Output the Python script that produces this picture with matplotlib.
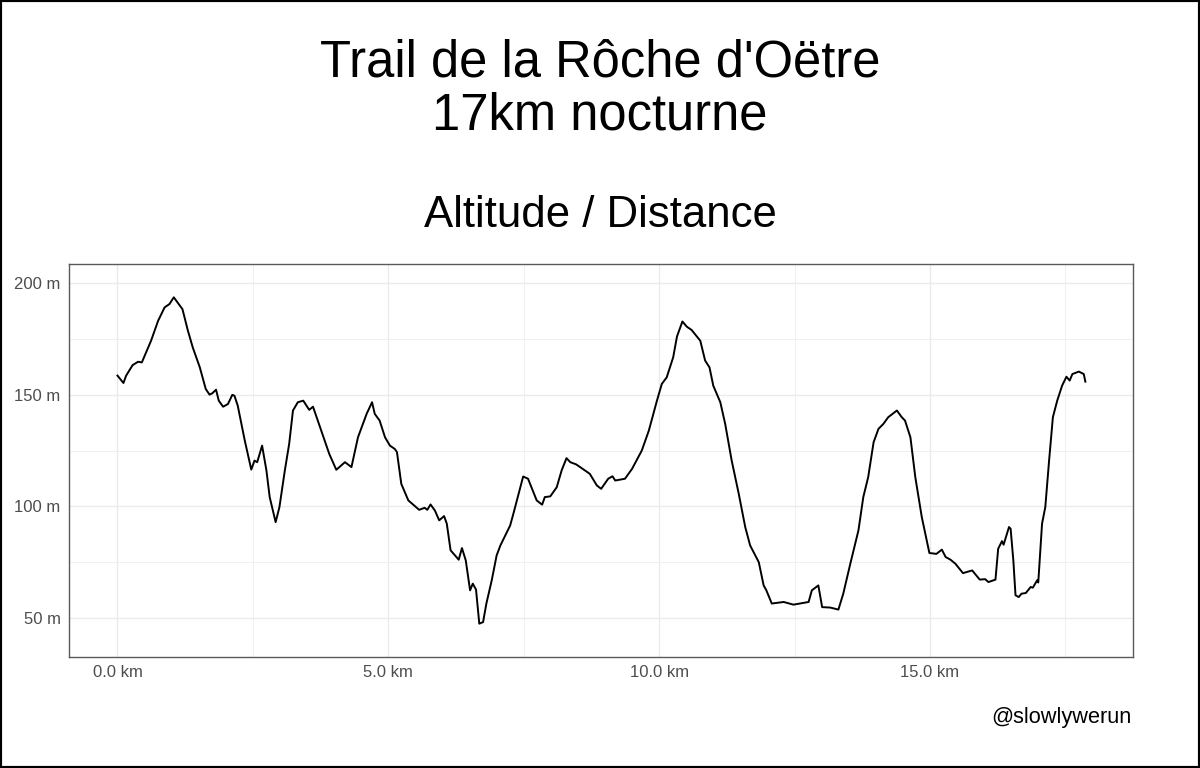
import matplotlib
matplotlib.use("Agg")
import matplotlib.pyplot as plt
from matplotlib.patches import Rectangle

plt.rcParams['font.family'] = ['Liberation Sans', 'DejaVu Sans']

# ---- data ----
distance_km = [
    0.00, 0.11, 0.16, 0.28, 0.38, 0.45, 0.62, 0.75, 0.87, 0.96, 1.04, 1.11, 1.20, 1.30, 1.39,
    1.52, 1.63, 1.70, 1.75, 1.82, 1.87, 1.95, 2.04, 2.12, 2.16, 2.22, 2.35, 2.47, 2.53, 2.58,
    2.67, 2.75, 2.81, 2.92, 2.99, 3.09, 3.17, 3.24, 3.33, 3.43, 3.54, 3.61, 3.73, 3.91, 4.04,
    4.20, 4.32, 4.44, 4.60, 4.70, 4.75, 4.84, 4.94, 5.03, 5.12, 5.16, 5.24, 5.37, 5.57, 5.67,
    5.72, 5.78, 5.86, 5.94, 6.03, 6.08, 6.15, 6.30, 6.36, 6.43, 6.51, 6.56, 6.62, 6.68, 6.75,
    6.81, 6.91, 7.00, 7.07, 7.25, 7.31, 7.49, 7.58, 7.74, 7.84, 7.89, 7.99, 8.11, 8.20, 8.29,
    8.36, 8.47, 8.72, 8.85, 8.93, 9.06, 9.14, 9.19, 9.37, 9.50, 9.68, 9.81, 9.96, 10.05, 10.14,
    10.26, 10.33, 10.43, 10.51, 10.60, 10.76, 10.85, 10.93, 11.00, 11.13, 11.22, 11.34, 11.47,
    11.59, 11.68, 11.84, 11.93, 11.98, 12.08, 12.30, 12.48, 12.76, 12.82, 12.94, 13.01, 13.16,
    13.31, 13.40, 13.53, 13.68, 13.77, 13.86, 13.96, 14.05, 14.14, 14.23, 14.39, 14.48, 14.54,
    14.64, 14.73, 14.85, 14.99, 15.12, 15.22, 15.29, 15.38, 15.47, 15.61, 15.78, 15.92, 16.02,
    16.08, 16.21, 16.26, 16.33, 16.36, 16.46, 16.49, 16.54, 16.58, 16.64, 16.69, 16.77, 16.86,
    16.90, 16.98, 17.00, 17.07, 17.13, 17.20, 17.27, 17.35, 17.44, 17.52, 17.58, 17.63, 17.75,
    17.84, 17.87,
]
altitude_m = [
    158.5, 155.2, 158.5, 163.2, 164.7, 164.4, 174.1, 183.0, 189.0, 190.5, 193.5, 191.2, 188.2, 178.6, 171.1,
    162.2, 152.5, 150.0, 150.6, 152.2, 147.3, 144.6, 145.8, 149.9, 149.5, 145.1, 129.5, 116.5, 120.5, 119.8,
    127.2, 116.1, 104.2, 93.0, 99.7, 116.1, 128.0, 142.9, 146.6, 147.3, 143.2, 144.6, 136.2, 123.5, 116.4,
    119.8, 117.6, 130.9, 141.4, 146.6, 141.4, 138.4, 130.9, 127.2, 125.7, 124.3, 110.1, 102.7, 98.5, 99.4,
    98.5, 100.9, 98.2, 93.8, 95.7, 92.3, 80.4, 76.2, 81.4, 75.9, 62.5, 65.5, 62.8, 47.6, 48.3,
    56.5, 67.0, 78.1, 82.6, 91.5, 96.8, 113.4, 112.4, 102.7, 100.8, 104.2, 104.5, 108.6, 116.1, 121.6,
    119.8, 118.8, 114.6, 109.4, 107.9, 112.4, 113.5, 111.6, 112.4, 116.8, 125.0, 133.9, 147.3, 154.8, 157.7,
    166.7, 176.0, 182.7, 180.4, 178.9, 174.1, 165.2, 162.2, 154.0, 146.6, 136.9, 120.5, 105.7,
    90.8, 82.6, 75.1, 64.7, 62.5, 56.6, 57.3, 56.1, 57.3, 62.5, 64.7, 55.0, 54.8,
    53.9, 61.0, 74.4, 89.3, 104.2, 113.1, 128.7, 134.7, 136.9, 139.9, 142.9, 139.9, 138.4,
    130.9, 113.1, 95.2, 79.2, 78.8, 80.7, 77.4, 76.2, 74.4, 70.2, 71.4, 67.3, 67.5,
    66.2, 67.3, 81.1, 84.5, 82.9, 90.8, 90.0, 75.9, 60.3, 59.5, 61.0, 61.3, 64.0,
    63.7, 67.0, 66.0, 92.3, 99.7, 120.5, 139.9, 147.3, 154.0, 158.0, 156.3, 159.2, 160.3,
    159.2, 155.8,
]

x_ticks = [0, 5, 10, 15]
x_tick_labels = ["0.0 km", "5.0 km", "10.0 km", "15.0 km"]
x_minor = [2.5, 7.5, 12.5, 17.5]
y_ticks = [50, 100, 150, 200]
y_tick_labels = ["50 m", "100 m", "150 m", "200 m"]
y_minor = [75, 125, 175]

title_line1 = "Trail de la Rôche d'Oëtre"
title_line2 = "17km nocturne"
subtitle = "Altitude / Distance"
caption = "@slowlywerun"

# ---- figure ----
fig = plt.figure(figsize=(12, 7.68), dpi=100)
fig.patch.set_facecolor('white')

ax = fig.add_axes([69 / 1200, 1 - 657 / 768, (1132.5 - 69) / 1200, (657 - 264) / 768])
ax.plot(distance_km, altitude_m, color='black', lw=1.4, solid_joinstyle='round')

ax.set_xlim(-0.895, 18.74)
ax.set_ylim(32.7, 208.4)

ax.set_xticks(x_ticks)
ax.set_xticklabels(x_tick_labels)
ax.set_xticks(x_minor, minor=True)
ax.set_yticks(y_ticks)
ax.set_yticklabels(y_tick_labels)
ax.set_yticks(y_minor, minor=True)

ax.tick_params(which='both', length=0)
ax.tick_params(axis='x', which='major', pad=6, labelsize=12, labelcolor='#4D4D4D')
ax.tick_params(axis='y', which='major', pad=6, labelsize=12, labelcolor='#4D4D4D')

ax.grid(which='major', color='#EBEBEB', lw=1.0)
ax.grid(which='minor', color='#F0F0F0', lw=0.7)
ax.set_axisbelow(True)

for sp in ax.spines.values():
    sp.set_color('#5A5A5A')
    sp.set_linewidth(1.0)

# ---- texts ----
fig.text(0.5, 1 - 76.7 / 768, title_line1, ha='center', va='baseline', fontsize=36.5, color='black')
fig.text(0.5, 1 - 130 / 768, title_line2, ha='center', va='baseline', fontsize=36.5, color='black')
fig.text(0.5, 1 - 227.3 / 768, subtitle, ha='center', va='baseline', fontsize=31.5, color='black')
fig.text(1131.7 / 1200, 1 - 723 / 768, caption, ha='right', va='baseline', fontsize=15.7, color='black')

# outer frame
fig.patches.append(Rectangle((0, 0), 1, 1, transform=fig.transFigure, fill=False,
                             edgecolor='black', lw=3, zorder=10))

fig.savefig('out.png', dpi=100, facecolor='white')
